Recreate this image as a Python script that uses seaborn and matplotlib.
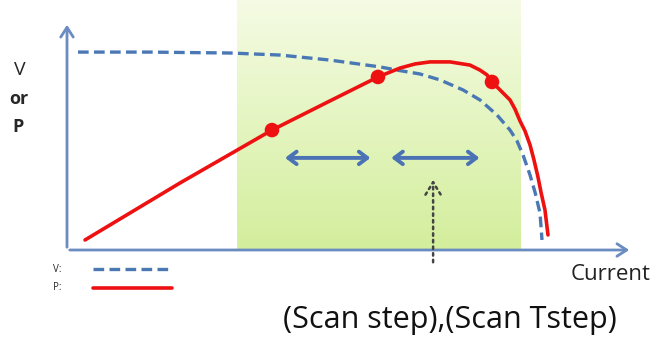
import numpy as np
import matplotlib
matplotlib.use("Agg")
import matplotlib.pyplot as plt
import seaborn as sns
import pandas as pd
from matplotlib.colors import LinearSegmentedColormap
from matplotlib.lines import Line2D

# V curve (dashed), arbitrary units
v_current = [0.195, 1.469, 2.885, 3.770, 4.655, 5.540, 5.841, 6.248, 6.602, 7.009, 7.310,
             7.611, 7.841, 7.965, 8.071, 8.195, 8.283, 8.372, 8.407]
v_value = [0.868, 0.868, 0.864, 0.855, 0.833, 0.803, 0.789, 0.772, 0.746, 0.702, 0.658,
           0.592, 0.526, 0.478, 0.417, 0.329, 0.254, 0.162, 0.044]

# P curve (solid red)
p_current = [0.319, 2.000, 3.628, 4.655, 5.504, 5.894, 6.160, 6.425, 6.779, 7.133,
             7.310, 7.434, 7.522, 7.664, 7.841, 7.929, 8.018, 8.106, 8.195, 8.265,
             8.336, 8.389, 8.460, 8.513]
p_value = [0.044, 0.294, 0.526, 0.654, 0.759, 0.798, 0.816, 0.825, 0.825, 0.811,
           0.789, 0.768, 0.737, 0.702, 0.658, 0.618, 0.566, 0.522, 0.461, 0.395,
           0.320, 0.254, 0.175, 0.066]

# scan points on P curve
scan_current = [3.628, 5.504, 7.522]
scan_value = [0.526, 0.759, 0.737]

# scan window and steps
window = [3.0, 8.02]
steps = [(3.81, 5.42), (5.69, 7.35)]
step_level = 0.404
track_current = 6.48

sns.set_style("white")
plt.rcParams['font.family'] = ['Open Sans', 'DejaVu Sans']

fig = plt.figure(figsize=(6.56, 3.41), dpi=100)
ax = fig.add_axes([67/656, 91/341, 565/656, 228/341])
ax.axis('off')

# green scan window with vertical gradient
cmap = LinearSegmentedColormap.from_list('g', ['#d3ee9c', '#e4f5c0', '#f5fbe4'])
grad = np.linspace(0, 1, 100).reshape(-1, 1)
ax.imshow(grad, cmap=cmap, origin='lower', aspect='auto',
          extent=[window[0], window[1], 0, 1.1], clip_on=False, zorder=0)
ax.set_xlim(0, 10)
ax.set_ylim(0, 1)

vdf = pd.DataFrame({'current': v_current, 'value': v_value})
pdf = pd.DataFrame({'current': p_current, 'value': p_value})
sdf = pd.DataFrame({'current': scan_current, 'value': scan_value})

blue = '#4a78b5'
red = '#ee1111'
sns.lineplot(data=vdf, x='current', y='value', sort=False, ax=ax, color=blue,
             lw=2.4, zorder=3)
ax.lines[-1].set_dashes([3.2, 1.6])
sns.lineplot(data=pdf, x='current', y='value', sort=False, ax=ax, color=red,
             lw=2.6, zorder=4)
ax.lines[-1].set_solid_joinstyle('round')
sns.scatterplot(data=sdf, x='current', y='value', ax=ax, color=red, s=110,
                edgecolor='none', zorder=5)
ax.set_xlim(0, 10)
ax.set_ylim(0, 1)

# axes arrows
axis_col = '#6a8cc0'
for end in [(0, 1), (1, 0)]:
    ax.annotate('', xy=end, xytext=(0, 0), xycoords='axes fraction',
                arrowprops=dict(arrowstyle='->,head_length=0.7,head_width=0.45',
                                color=axis_col, lw=2),
                annotation_clip=False)

# step arrows
for a, b in steps:
    ax.annotate('', xy=(b, step_level), xytext=(a, step_level),
                arrowprops=dict(arrowstyle='<->,head_length=0.6,head_width=0.45',
                                color='#4a72b5', lw=2.8))

# dotted tracking arrow
ax.annotate('', xy=(track_current, 0.32), xytext=(track_current, -0.066),
            arrowprops=dict(arrowstyle='->,head_length=0.9,head_width=0.55',
                            color='#444444', lw=1.8, linestyle=':'),
            annotation_clip=False)

# left label
fig.text(20/656, 1 - 70/341, 'V', ha='center', va='center', fontsize=14)
fig.text(19/656, 1 - 99/341, 'or', ha='center', va='center', fontsize=13, weight='bold')
fig.text(18/656, 1 - 127/341, 'P', ha='center', va='center', fontsize=13, weight='bold')

fig.text(611/656, 1 - 275/341, 'Current', ha='center', va='center', fontsize=16, color='#222222')
fig.text(450/656, 1 - 320/341, '(Scan step),(Scan Tstep)', ha='center', va='center',
         fontsize=22, color='#111111')

# legend samples
fig.text(53/656, 1 - 269/341, 'V:', ha='left', va='center', fontsize=7)
fig.text(53/656, 1 - 288/341, 'P:', ha='left', va='center', fontsize=7)
fig.add_artist(Line2D([93/656, 172/656], [1 - 269/341] * 2, color=blue, lw=2.4,
                      dashes=[3.2, 1.6], transform=fig.transFigure))
fig.add_artist(Line2D([93/656, 172/656], [1 - 288/341] * 2, color=red, lw=2.6,
                      transform=fig.transFigure))

fig.savefig('out.png', dpi=100)
